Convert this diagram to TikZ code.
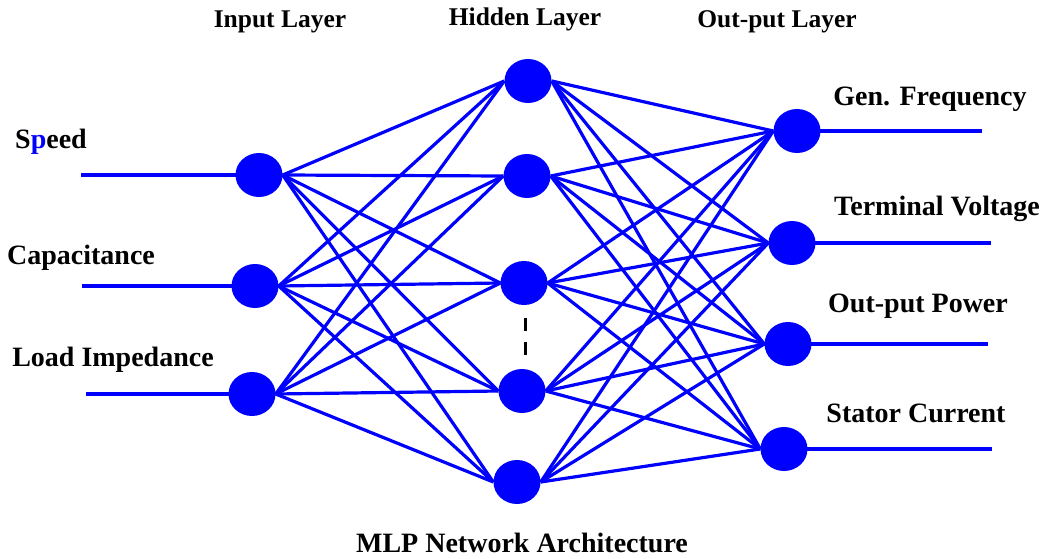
\documentclass[tikz,border=0pt]{standalone}
\usepackage{fontspec}
\setmainfont{Liberation Serif}
\usetikzlibrary{shapes.geometric}
\definecolor{netblue}{RGB}{0,0,255}
\begin{document}
\begin{tikzpicture}[x=1pt,y=-1pt,
  neuron/.style={ellipse,fill=netblue,draw=none,minimum width=47pt,minimum height=44pt,inner sep=0pt},
  conn/.style={draw=netblue,line width=3.2pt},
  lbl/.style={font=\fontsize{28}{32}\selectfont\bfseries,inner sep=0pt,anchor=center},
  head/.style={font=\fontsize{25.5}{30}\selectfont\bfseries,inner sep=0pt,anchor=center}]
\useasboundingbox (0,0) rectangle (1047,559);
% free ends
\coordinate (a1) at (81,175);
\coordinate (a2) at (82,286);
\coordinate (a3) at (86,394);
\coordinate (b1) at (982,131);
\coordinate (b2) at (991,243);
\coordinate (b3) at (988,344);
\coordinate (b4) at (992,449);
\coordinate (d1) at (525,318);
\coordinate (d2) at (525,358);
% node positions (coordinates, nodes drawn after connectors)
\coordinate (pi1) at (259,175);
\coordinate (pi2) at (255,286);
\coordinate (pi3) at (252,394);
\coordinate (ph1) at (528,81);
\coordinate (ph2) at (527,176);
\coordinate (ph3) at (524,283);
\coordinate (ph4) at (522,391);
\coordinate (ph5) at (517,482);
\coordinate (po1) at (797,131);
\coordinate (po2) at (792,243);
\coordinate (po3) at (788,344);
\coordinate (po4) at (784,449);
% invisible anchors for connectors
\foreach \n in {i1,i2,i3,h1,h2,h3,h4,h5,o1,o2,o3,o4}{\node[neuron,fill=none] (\n) at (p\n) {};}
% connectors
\foreach \i in {1,2,3}{\foreach \h in {1,...,5}{\draw[conn] (i\i.east) -- (h\h.west);}}
\foreach \h in {1,...,5}{\foreach \o in {1,...,4}{\draw[conn] (h\h.east) -- (o\o.west);}}
\foreach \k in {1,2,3}{\draw[conn] (a\k) -- (i\k.center);}
\foreach \k in {1,2,3,4}{\draw[conn] (o\k.center) -- (b\k);}
% nodes on top
\foreach \n in {i1,i2,i3,h1,h2,h3,h4,h5,o1,o2,o3,o4}{\node[neuron] (n\n) at (p\n) {};}
\draw[line width=3pt,dash pattern=on 13pt off 11pt] (d1) -- (d2);
% labels
\node[head] (tIn) at (280,22) {Input Layer};
\node[head] (tHid) at (525,19) {Hidden Layer};
\node[head] (tOut) at (777,22) {Out-put Layer};
\node[lbl] (lSpeed) at (51,142) {S\textcolor{netblue}{p}eed};
\node[lbl] (lCap) at (81,258) {Capacitance};
\node[lbl] (lLoad) at (113,360) {Load Impedance};
\node[lbl] (lGen) at (930,99) {Gen. Frequency};
\node[lbl] (lTerm) at (937,209) {Terminal Voltage};
\node[lbl] (lPow) at (918,306) {Out-put Power};
\node[lbl] (lStat) at (916,413) {Stator Current};
\node[lbl] (tMLP) at (522,543) {MLP Network Architecture};
\end{tikzpicture}
\end{document}
